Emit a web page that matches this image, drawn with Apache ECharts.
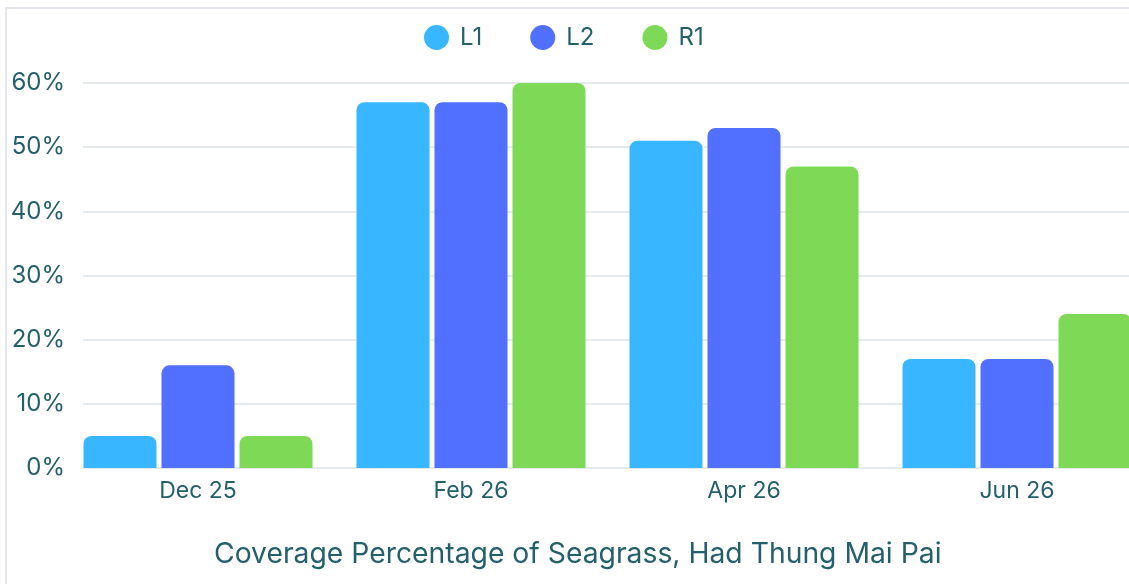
<!DOCTYPE html>
<html>
<head>
<meta charset="utf-8">
<script src="https://cdn.jsdelivr.net/npm/echarts@6/dist/echarts.min.js"></script>
<style>
  html, body { margin: 0; padding: 0; background: #ffffff; }
  #chart { width: 1129px; height: 584px; }
</style>
</head>
<body>
<div id="chart"></div>
<script>
// Seagrass coverage by survey month and transect
const categories = ['Dec 25', 'Feb 26', 'Apr 26', 'Jun 26'];
const seriesNames = ['L1', 'L2', 'R1'];
const valuesL1 = [5, 57, 51, 17];
const valuesL2 = [16, 57, 53, 17];
const valuesR1 = [5, 60, 47, 24];
const yTicks = [0, 10, 20, 30, 40, 50, 60];

const colors = ['#38b6ff', '#5170ff', '#7ed957'];
const textColor = '#24606b';
const fontFamily = 'Inter, "Open Sans", sans-serif';

const chart = echarts.init(document.getElementById('chart'), null, { renderer: 'canvas' });

function barSeries(name, data, color) {
  return {
    name: name,
    type: 'bar',
    xAxisIndex: 0,
    yAxisIndex: 0,
    data: data,
    barWidth: 73,
    barGap: '6.85%',
    itemStyle: { color: color, borderRadius: [8, 8, 0, 0] },
    emphasis: { disabled: true }
  };
}

chart.setOption({
  animation: false,
  backgroundColor: '#ffffff',
  textStyle: { fontFamily: fontFamily },
  graphic: [{
    type: 'rect',
    shape: { x: 6, y: 8, width: 1300, height: 800 },
    style: { fill: 'none', stroke: '#e6e6ee', lineWidth: 2 },
    silent: true,
    z: -10
  }],
  legend: {
    data: seriesNames,
    top: 20,
    left: 419,
    icon: 'circle',
    itemWidth: 25,
    itemHeight: 25,
    itemGap: 48,
    textStyle: { color: textColor, fontSize: 24, fontFamily: fontFamily, padding: [0, 0, 0, 6] }
  },
  title: {
    text: 'Coverage Percentage of Seagrass, Had Thung Mai Pai',
    left: 209,
    top: 535,
    textStyle: { color: textColor, fontSize: 28.3, fontWeight: 'normal', fontFamily: fontFamily }
  },
  grid: [
    { left: 61.5, top: 83, width: 1092, height: 385, outerBoundsMode: 'none', containLabel: false },
    { left: 83, top: 83, right: 0, height: 385, outerBoundsMode: 'none', containLabel: false }
  ],
  xAxis: [
    {
      type: 'category',
      gridIndex: 0,
      data: categories,
      axisLine: { show: false },
      axisTick: { show: false },
      axisLabel: { color: textColor, fontSize: 23, margin: 12, fontFamily: fontFamily }
    },
    {
      type: 'category',
      gridIndex: 1,
      data: categories,
      show: false
    }
  ],
  yAxis: [
    {
      type: 'value',
      gridIndex: 0,
      min: 0,
      max: 60,
      interval: 10,
      show: false,
      splitLine: { show: false }
    },
    {
      type: 'value',
      gridIndex: 1,
      min: yTicks[0],
      max: yTicks[yTicks.length - 1],
      interval: 10,
      axisLine: { show: false },
      axisTick: { show: false },
      axisLabel: {
        color: textColor,
        fontSize: 24,
        margin: 18,
        fontFamily: fontFamily,
        formatter: v => v + '%'
      },
      splitLine: { lineStyle: { color: '#e4eaed', width: 2 } }
    }
  ],
  series: [
    barSeries(seriesNames[0], valuesL1, colors[0]),
    barSeries(seriesNames[1], valuesL2, colors[1]),
    barSeries(seriesNames[2], valuesR1, colors[2])
  ]
});
</script>
</body>
</html>
